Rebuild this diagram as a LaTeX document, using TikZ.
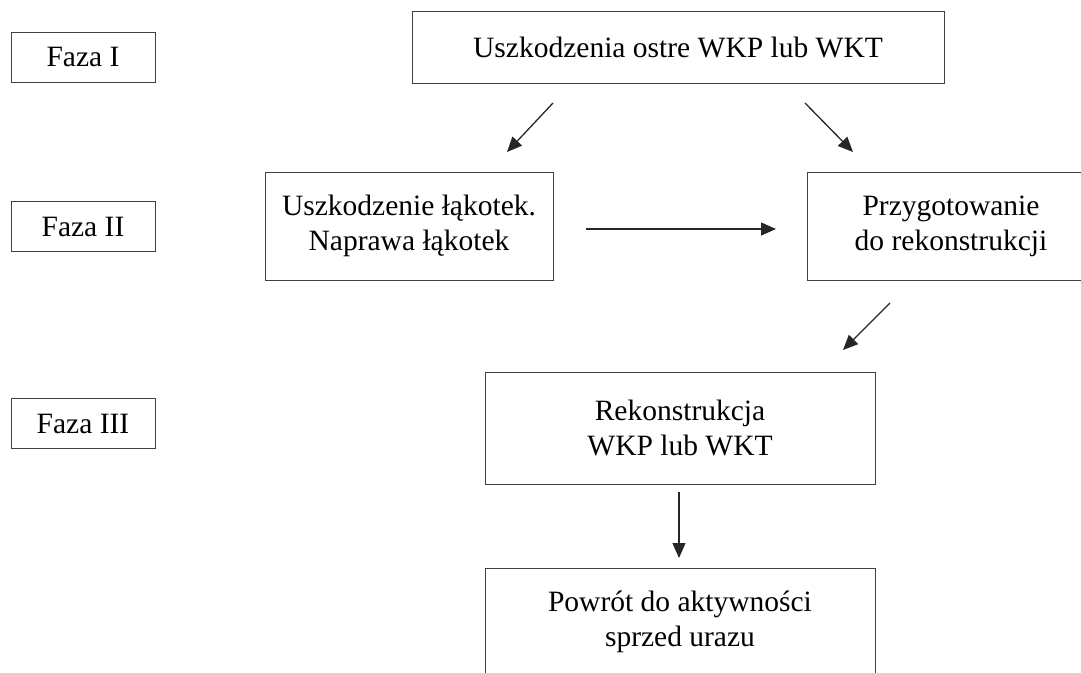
\documentclass[tikz,border=0pt]{standalone}
\usepackage{fontspec}
\setmainfont{Liberation Serif}
\usetikzlibrary{arrows.meta}
\tikzset{faza box/.style={draw=black!75,line width=0.9pt,minimum width=144,minimum height=50,inner sep=0pt,font=\fontsize{29.5}{35}\selectfont},
	krok box/.style={draw=black!75,line width=0.9pt,inner sep=0pt,align=center,font=\fontsize{29.5}{35}\selectfont},
	krok arrow/.style={-{Triangle[length=15pt,width=13pt]},line width=1.3pt,draw=black!85},}

\begin{document}
\begin{tikzpicture}[x=1pt,y=-1pt]
			\useasboundingbox (0,0) rectangle (1081,672);

			\node[faza box] (f1) at (83,57) {Faza I};
			\node[faza box] (f2) at (83,226.5) {Faza II};
			\node[faza box] (f3) at (83,423.5) {Faza III};

			\node[krok box,minimum width=532,minimum height=72] (ostre) at (678,47) {Uszkodzenia ostre WKP lub WKT};
			\node[krok box,minimum width=288,minimum height=108] (lakotki) at (409,226) {Uszkodzenie łąkotek.\\Naprawa łąkotek};
			\node[krok box,minimum width=288,minimum height=108] (przyg) at (951,226) {Przygotowanie\\do rekonstrukcji};
			\node[krok box,minimum width=390,minimum height=112] (rekon) at (680,428) {Rekonstrukcja\\WKP lub WKT};
			\node[krok box,minimum width=390,minimum height=108] (powrot) at (680,622) {Powrót do aktywności\\sprzed urazu};

			\coordinate (a1) at (553,103);
			\coordinate (b1) at (507,152);
			\coordinate (a2) at (805,103);
			\coordinate (b2) at (853,152);
			\coordinate (a3) at (586,229);
			\coordinate (b3) at (776,229);
			\coordinate (a4) at (890,303);
			\coordinate (b4) at (843,350);
			\coordinate (a5) at (679,492);
			\coordinate (b5) at (679,558);

			\draw[krok arrow] (a1) -- (b1);
			\draw[krok arrow] (a2) -- (b2);
			\draw[krok arrow] (a3) -- (b3);
			\draw[krok arrow] (a4) -- (b4);
			\draw[krok arrow] (a5) -- (b5);
		\end{tikzpicture}
\end{document}
